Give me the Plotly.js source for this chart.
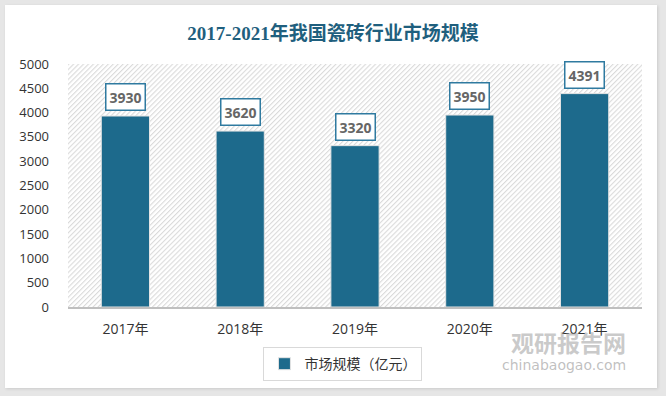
<!DOCTYPE html>
<html>
<head>
<meta charset="utf-8">
<script src="https://cdn.plot.ly/plotly-3.0.1.min.js"></script>
<style>
  html, body { margin: 0; padding: 0; background: #e6e6e6; width: 666px; height: 396px; overflow: hidden; }
  #card { position: absolute; left: 5px; top: 5px; width: 652px; height: 383px; background: #ffffff; box-shadow: 1px 1px 3px rgba(0,0,0,0.12); }
  #chart { position: absolute; left: 0; top: 0; width: 666px; height: 396px; }
</style>
</head>
<body>
<div id="card"></div>
<div id="chart"></div>
<script>
const categories = ['2017年', '2018年', '2019年', '2020年', '2021年'];
const marketSize = [3930, 3620, 3320, 3950, 4391];
const seriesName = '市场规模（亿元）';
const yTicks = [0, 500, 1000, 1500, 2000, 2500, 3000, 3500, 4000, 4500, 5000];

const hatchSvg = '<svg xmlns="http://www.w3.org/2000/svg" width="574" height="243" viewBox="0 0 574 243" preserveAspectRatio="none">' +
  '<defs><pattern id="p" patternUnits="userSpaceOnUse" width="3.5" height="3.5" patternTransform="rotate(45)">' +
  '<rect width="3.5" height="3.5" fill="#ffffff"/><rect width="1.1" height="3.5" fill="#dadada"/></pattern></defs>' +
  '<rect width="574" height="243" fill="url(#p)"/></svg>';
const hatchUri = 'data:image/svg+xml;charset=utf-8,' + encodeURIComponent(hatchSvg);

const trace = {
  type: 'bar',
  x: categories,
  y: marketSize,
  name: seriesName,
  width: 0.42,
  marker: { color: '#1d6a8c', line: { color: '#e4e4e4', width: 1 } },
  hoverinfo: 'x+y'
};

const annotations = categories.map((c, i) => ({
  x: c, y: marketSize[i], xref: 'x', yref: 'y',
  text: String(marketSize[i]),
  showarrow: false, yanchor: 'bottom', yshift: 5,
  font: { family: 'Open Sans, Noto Sans, sans-serif', size: 14, color: '#666666', weight: 'bold' },
  bgcolor: '#ffffff', bordercolor: '#2f7aa0', borderwidth: 1.5, borderpad: 3
}));

annotations.push({
  xref: 'paper', yref: 'paper', x: 0.975, y: -0.145, xanchor: 'right', yanchor: 'middle',
  text: '观研报告网', showarrow: false,
  font: { family: 'Noto Sans CJK SC', size: 23, color: 'rgba(150,150,150,0.5)', weight: 'bold' }
});
annotations.push({
  xref: 'paper', yref: 'paper', x: 0.975, y: -0.24, xanchor: 'right', yanchor: 'middle',
  text: 'chinabaogao.com', showarrow: false,
  font: { family: 'DejaVu Sans', size: 14, color: 'rgba(150,150,150,0.6)' }
});

const layout = {
  width: 666, height: 396,
  margin: { l: 68, r: 24, t: 64, b: 89 },
  paper_bgcolor: 'rgba(0,0,0,0)',
  plot_bgcolor: 'rgba(0,0,0,0)',
  title: {
    text: '2017-2021年我国瓷砖行业市场规模',
    x: 0.5, xref: 'container', xanchor: 'center',
    y: 0.917, yref: 'container', yanchor: 'middle',
    font: { family: 'Liberation Serif, Noto Sans CJK SC, serif', size: 19, color: '#1f5f7e', weight: 'bold' }
  },
  xaxis: {
    type: 'category',
    showgrid: false, zeroline: false,
    showline: true, linecolor: '#bfbfbf', linewidth: 2,
    ticks: '', ticklabelstandoff: 8,
    tickfont: { family: 'Open Sans, Noto Sans CJK SC, sans-serif', size: 14, color: '#333333' }
  },
  yaxis: {
    range: [0, 5000],
    tickvals: yTicks,
    ticktext: yTicks.map(String),
    showgrid: false, zeroline: false, showline: false,
    ticks: '', ticklabelstandoff: 18,
    tickfont: { family: 'Open Sans, Noto Sans, sans-serif', size: 13, color: '#333333' }
  },
  showlegend: true,
  legend: {
    orientation: 'h',
    x: 0.479, xanchor: 'center',
    y: -0.165, yanchor: 'top',
    bgcolor: '#ffffff', bordercolor: '#d9d9d9', borderwidth: 1,
    font: { family: 'Noto Sans CJK SC', size: 14, color: '#333333' },
    itemwidth: 30
  },
  images: [{
    source: hatchUri, xref: 'paper', yref: 'paper',
    x: 0, y: 1, sizex: 1, sizey: 1, sizing: 'stretch',
    xanchor: 'left', yanchor: 'top', layer: 'below'
  }],
  annotations: annotations,
  bargap: 0.58
};

Plotly.newPlot('chart', [trace], layout, { displayModeBar: false, staticPlot: true });
</script>
</body>
</html>
